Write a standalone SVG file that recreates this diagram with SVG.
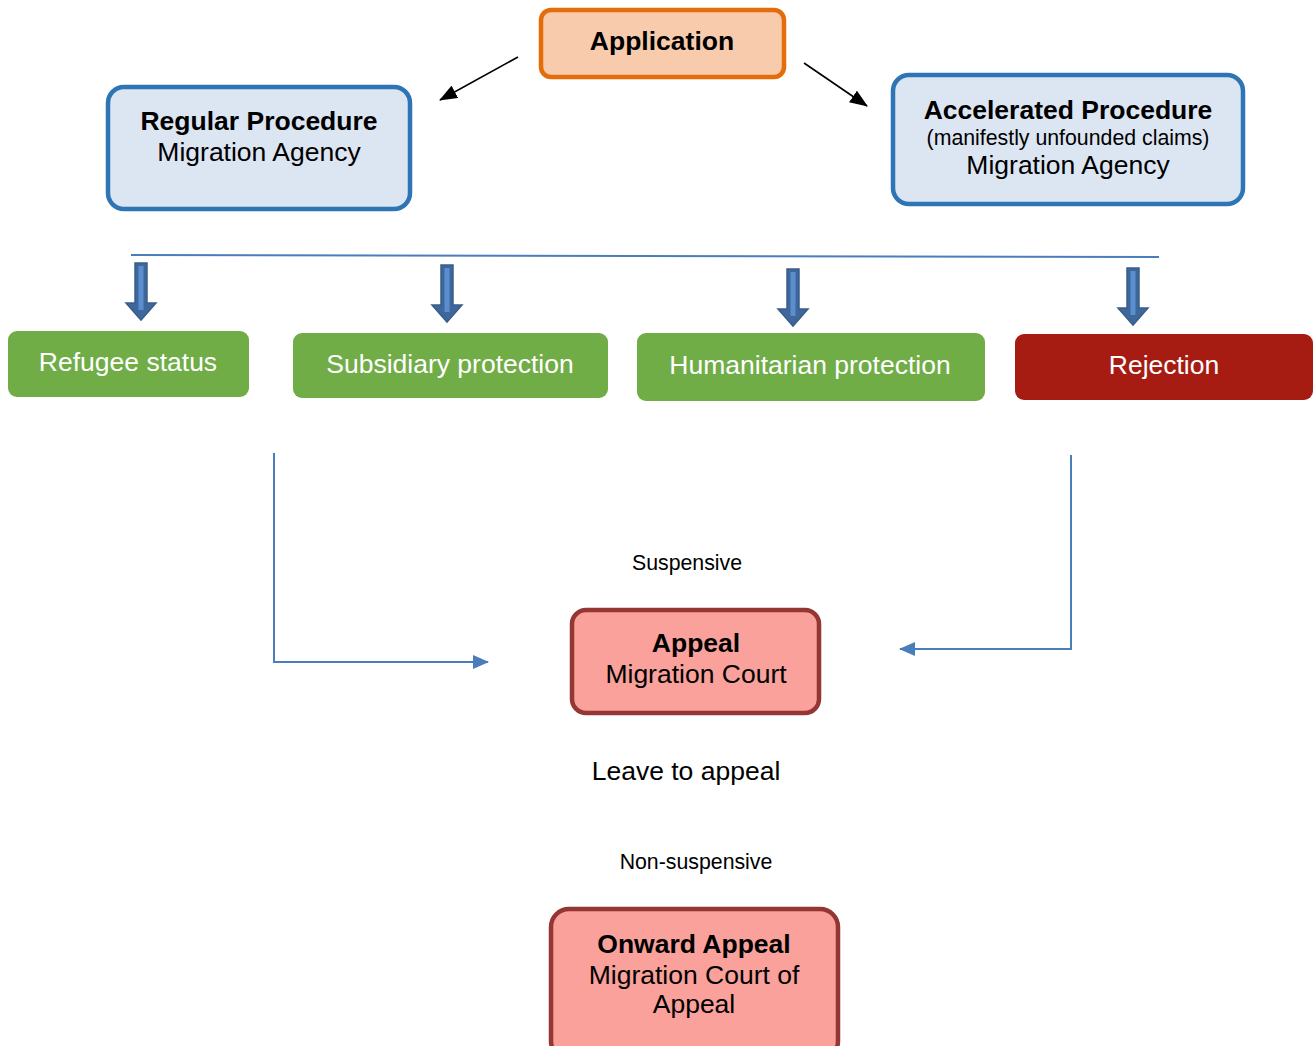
<svg xmlns="http://www.w3.org/2000/svg" width="1314" height="1046" viewBox="0 0 1314 1046">
<style>
text{font-family:"Liberation Sans",Arial,sans-serif;text-anchor:middle;fill:#000}
.b{font-weight:bold}
.t24{font-size:26.5px}
.t18{font-size:21.3px}
.w{fill:#fff}
.blue{fill:#DCE6F2;stroke:#2E75B6;stroke-width:4.5}
.green{fill:#70AD47}
.red{fill:#A61C13}
.pink{fill:#F9A19A;stroke:#943634;stroke-width:4.5}
.conn{fill:none;stroke:#4A7EBB;stroke-width:2}
.blk{fill:none;stroke:#000;stroke-width:1.6}
.barrow{fill:#3E679B;stroke:#385D8A;stroke-width:1.5}
.inner{fill:#5B8ECF}
</style>
<defs>
<marker id="ah" markerWidth="18" markerHeight="14" refX="17" refY="7" orient="auto" markerUnits="userSpaceOnUse" viewBox="0 0 18 14">
<path d="M0,0 L18,7 L0,14 z" fill="#000"/>
</marker>
<marker id="ab" markerWidth="16" markerHeight="14" refX="15" refY="7" orient="auto" markerUnits="userSpaceOnUse" viewBox="0 0 16 14">
<path d="M0,0 L16,7 L0,14 z" fill="#4A7EBB"/>
</marker>
<g id="bar">
<path d="M-6,0 H6 V40 H15 L0,57 L-15,40 H-6 Z" class="barrow"/>
<rect x="-2.5" y="3" width="5" height="44" class="inner"/>
</g>
</defs>

<g id="application">
<rect x="541" y="10" width="243" height="67" rx="10" fill="#F8CBAD" stroke="#E46C0A" stroke-width="4.5"/>
<text x="662" y="50" class="t24 b">Application</text>
</g>

<g id="regular">
<rect x="108" y="87" width="302" height="122" rx="16" class="blue"/>
<text x="259" y="130" class="t24 b">Regular Procedure</text>
<text x="259" y="161" class="t24">Migration Agency</text>
</g>

<g id="accelerated">
<rect x="893" y="75" width="350" height="129" rx="16" class="blue"/>
<text x="1068" y="119" class="t24 b">Accelerated Procedure</text>
<text x="1068" y="145" class="t18">(manifestly unfounded claims)</text>
<text x="1068" y="174" class="t24">Migration Agency</text>
</g>

<g id="refugee">
<rect x="8" y="331" width="241" height="66" rx="9" class="green"/>
<text x="128" y="371" class="t24 w">Refugee status</text>
</g>

<g id="subsidiary">
<rect x="293" y="333" width="315" height="65" rx="9" class="green"/>
<text x="450" y="373" class="t24 w">Subsidiary protection</text>
</g>

<g id="humanitarian">
<rect x="637" y="333" width="348" height="68" rx="9" class="green"/>
<text x="810" y="374" class="t24 w">Humanitarian protection</text>
</g>

<g id="rejection">
<rect x="1015" y="334" width="298" height="66" rx="9" class="red"/>
<text x="1164" y="374" class="t24 w">Rejection</text>
</g>

<g id="appeal">
<rect x="572" y="610" width="247" height="103" rx="14" class="pink"/>
<text x="696" y="652" class="t24 b">Appeal</text>
<text x="696" y="683" class="t24">Migration Court</text>
</g>

<g id="onward">
<rect x="551" y="909" width="287" height="150" rx="18" class="pink"/>
<text x="694" y="953" class="t24 b">Onward Appeal</text>
<text x="694" y="984" class="t24">Migration Court of</text>
<text x="694" y="1013" class="t24">Appeal</text>
</g>

<g id="labels">
<text x="687" y="570" class="t18">Suspensive</text>
<text x="686" y="780" class="t24">Leave to appeal</text>
<text x="696" y="869" class="t18">Non-suspensive</text>
</g>

<g id="connectors">
<line x1="518" y1="57" x2="440" y2="100" class="blk" marker-end="url(#ah)"/>
<line x1="804" y1="63" x2="867" y2="106" class="blk" marker-end="url(#ah)"/>
<line x1="131" y1="255" x2="1159" y2="257" class="conn"/>
<use href="#bar" x="141" y="263"/>
<use href="#bar" x="447" y="265"/>
<use href="#bar" x="793" y="269"/>
<use href="#bar" x="1133" y="268"/>
<polyline points="274,453 274,662 488,662" class="conn" marker-end="url(#ab)"/>
<polyline points="1071,455 1071,649 900,649" class="conn" marker-end="url(#ab)"/>
</g>
</svg>
